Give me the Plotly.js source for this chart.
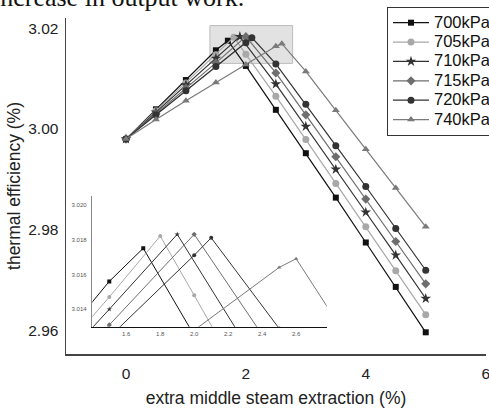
<!DOCTYPE html>
<html>
<head>
<meta charset="utf-8">
<script src="https://cdn.plot.ly/plotly-3.0.1.min.js"></script>
<style>html,body{margin:0;padding:0;background:#fff;}#chart{width:489px;height:410px;}</style>
</head>
<body>
<div id="chart"></div>
<script>
// ---- data ----
const seriesNames = ["700kPa", "705kPa", "710kPa", "715kPa", "720kPa", "740kPa"];
const x700 = [0, 0.5, 1, 1.5, 1.7, 2, 2.5, 3, 3.5, 4, 4.5, 5];
const y700 = [2.998, 3.0039, 3.0097, 3.0156, 3.0175, 3.0125, 3.0038, 2.9952, 2.9864, 2.9775, 2.9687, 2.9597];
const x705 = [0, 0.5, 1, 1.5, 1.8, 2, 2.5, 3, 3.5, 4, 4.5, 5];
const y705 = [2.998, 3.0036, 3.0091, 3.0147, 3.0182, 3.0148, 3.0065, 2.9979, 2.9892, 2.9806, 2.9719, 2.9632];
const x710 = [0, 0.5, 1, 1.5, 1.9, 2.5, 3, 3.5, 4, 4.5, 5];
const y710 = [2.998, 3.0033, 3.0087, 3.0140, 3.0183, 3.0089, 3.0005, 2.9920, 2.9835, 2.9750, 2.9664];
const x715 = [0, 0.5, 1, 1.5, 2, 2.5, 3, 3.5, 4, 4.5, 5];
const y715 = [2.998, 3.0030, 3.0081, 3.0131, 3.0183, 3.0111, 3.0028, 2.9945, 2.9861, 2.9777, 2.9693];
const x720 = [0, 0.5, 1, 1.5, 2, 2.1, 2.5, 3, 3.5, 4, 4.5, 5];
const y720 = [2.998, 3.0028, 3.0076, 3.0124, 3.0171, 3.0181, 3.0129, 3.0049, 2.9967, 2.9886, 2.9803, 2.9720];
const x740 = [0, 0.5, 1, 1.5, 2, 2.5, 2.6, 3, 3.5, 4, 4.5, 5];
const y740 = [2.998, 3.0019, 3.0056, 3.0092, 3.0128, 3.0164, 3.0169, 3.0114, 3.0037, 2.9960, 2.9883, 2.9806];

const mainXTicks = [0, 2, 4, 6];
const mainYTicks = [2.96, 2.98, 3.00, 3.02];
const insetXTicks = [1.6, 1.8, 2.0, 2.2, 2.4, 2.6];
const insetYTicks = [3.014, 3.016, 3.018, 3.020];
const zoomBox = {x0: 1.4, x1: 2.78, y0: 3.013, y1: 3.0205};
const caption = "increase in output work.";

// ---- styles ----
const xsAll = [x700, x705, x710, x715, x720, x740];
const ysAll = [y700, y705, y710, y715, y720, y740];
const lineColors = ["#111111", "#a8a8a8", "#333333", "#6e6e6e", "#333333", "#7a7a7a"];
const symbols = ["square", "circle", "star", "diamond", "circle", "triangle-up"];
const mSizes = [6, 7, 8, 7, 7, 7];

const FONT = "Liberation Sans, Arial, sans-serif";
const traces = [];
for (let i = 0; i < seriesNames.length; i++) {
  traces.push({
    type: "scatter", mode: "lines+markers",
    name: '<span style="font-size:16.5px">' + seriesNames[i] + '</span>',
    x: xsAll[i], y: ysAll[i], xaxis: "x", yaxis: "y",
    line: {color: lineColors[i], width: 1.2},
    marker: {symbol: symbols[i], size: mSizes[i], color: lineColors[i]},
    cliponaxis: false
  });
}
for (let i = 0; i < seriesNames.length; i++) {
  traces.push({
    type: "scatter", mode: "lines+markers", name: seriesNames[i], showlegend: false,
    x: xsAll[i], y: ysAll[i], xaxis: "x2", yaxis: "y2",
    line: {color: lineColors[i], width: 1},
    marker: {symbol: symbols[i], size: 4, color: lineColors[i]}
  });
}

const L = 66, R = 3, T = 18, B = 56;
const W = 489, H = 410;
const pw = W - L - R, ph = H - T - B;
function px2paperX(px) { return (px - L) / pw; }
function px2paperY(py) { return (H - B - py) / ph; }

const layout = {
  width: W, height: H,
  margin: {l: L, r: R, t: T, b: B, autoexpand: false},
  paper_bgcolor: "#ffffff", plot_bgcolor: "rgba(0,0,0,0)",
  font: {family: FONT, color: "#222"},
  showlegend: true,
  legend: {
    x: px2paperX(387), y: px2paperY(7), xanchor: "left", yanchor: "top",
    bgcolor: "#ffffff", bordercolor: "#333333", borderwidth: 1,
    font: {family: FONT, size: 12.6, color: "#111"},
    itemwidth: 36, tracegroupgap: 0
  },
  xaxis: {
    domain: [0, 1], range: [-1, 6.005], tickvals: mainXTicks, ticktext: mainXTicks.map(String),
    showgrid: false, zeroline: false, showline: true, linecolor: "#444", linewidth: 1.5,
    ticks: "", ticklabelstandoff: 5, ticklabeloverflow: "allow",
    tickfont: {size: 15.5, color: "#222"},
    title: {text: "extra middle steam extraction (%)", font: {size: 17.5, color: "#222"}, standoff: 10}
  },
  yaxis: {
    domain: [0, 1], range: [2.9554, 3.0220], tickvals: mainYTicks,
    tickformat: ".2f", showgrid: false, zeroline: false, showline: true,
    linecolor: "#444", linewidth: 1.5, ticks: "", ticklabelstandoff: 3,
    tickfont: {size: 15.5, color: "#222"},
    title: {text: "thermal efficiency (%)", font: {size: 17.5, color: "#222"}, standoff: 3}
  },
  xaxis2: {
    domain: [px2paperX(92.3), px2paperX(326.7)], anchor: "y2",
    range: [1.4, 2.78], tickvals: insetXTicks, tickformat: ".1f",
    showgrid: false, zeroline: false, showline: true, linecolor: "#111", linewidth: 1.5,
    ticks: "", ticklabelstandoff: 1, tickfont: {size: 6, color: "#555"}
  },
  yaxis2: {
    domain: [px2paperY(326.7), px2paperY(196)], anchor: "x2",
    range: [3.013, 3.0205], tickvals: insetYTicks, tickformat: ".3f",
    showgrid: false, zeroline: false, showline: true, linecolor: "#888", linewidth: 1.5,
    ticks: "", ticklabelstandoff: 3, tickfont: {size: 6, color: "#555"}
  },
  shapes: [{
    type: "rect", xref: "x", yref: "y", layer: "below",
    x0: zoomBox.x0, x1: zoomBox.x1, y0: zoomBox.y0, y1: zoomBox.y1,
    fillcolor: "#e2e2e2", line: {color: "#bdbdbd", width: 1}
  }],
  annotations: [{
    text: caption, xref: "paper", yref: "paper", showarrow: false,
    x: px2paperX(246), y: px2paperY(-3), xanchor: "right", yanchor: "middle",
    font: {family: "Liberation Serif, Times New Roman, serif", size: 26, color: "#111"}
  }]
};

Plotly.newPlot("chart", traces, layout, {displayModeBar: false, staticPlot: true});
</script>
</body>
</html>
